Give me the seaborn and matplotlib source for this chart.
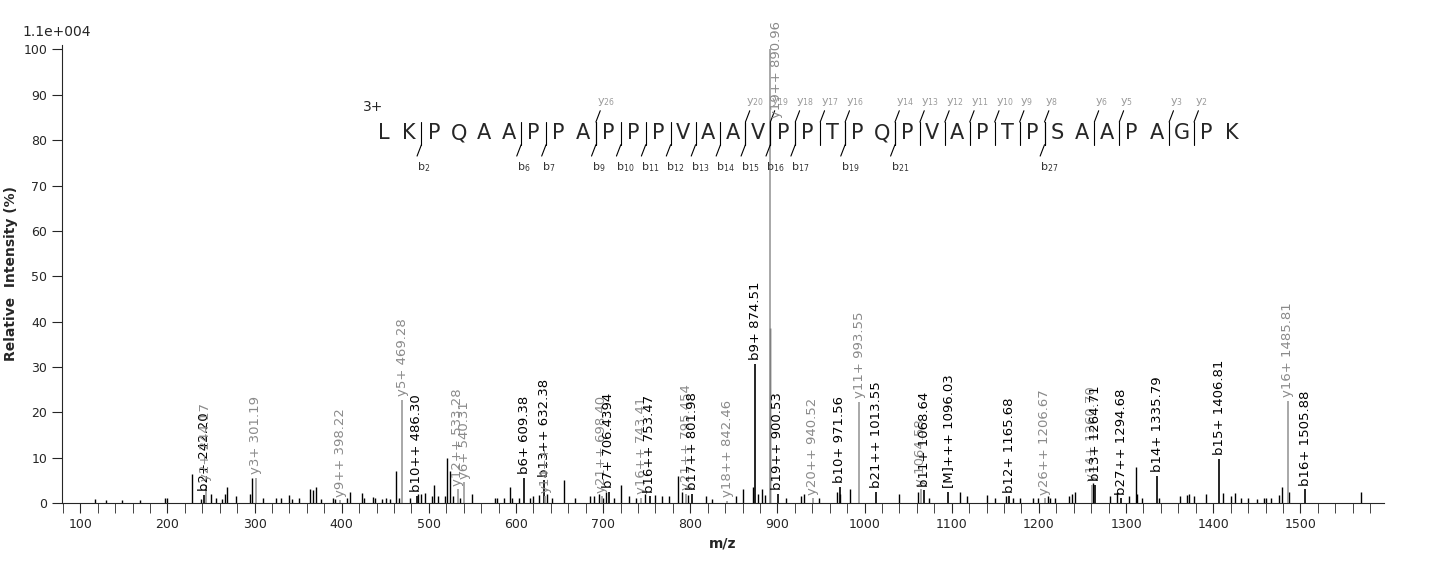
import matplotlib
matplotlib.use("Agg")
import matplotlib.pyplot as plt
from matplotlib.ticker import MultipleLocator
import seaborn as sns

# annotated fragment peaks: m/z, relative intensity, label, ion kind
ann_mz = [242.20, 244.17, 301.19, 398.22, 469.28, 486.30, 533.28, 540.31,
          609.38, 632.38, 633.40, 698.40, 706.4394, 743.41, 753.47, 795.454,
          801.98, 842.46, 874.51, 890.96, 900.53, 940.52, 971.56, 993.55,
          1013.55, 1064.58, 1068.64, 1096.03, 1165.68, 1206.67, 1260.70,
          1264.71, 1294.68, 1335.79, 1406.81, 1485.81, 1505.88]
ann_int = [1.8, 4.0, 5.6, 0.6, 22.8, 1.6, 3.0, 4.6,
           5.5, 5.0, 1.5, 1.5, 2.5, 1.2, 1.5, 2.0,
           2.0, 0.5, 30.7, 100.0, 2.0, 1.0, 3.5, 22.3,
           2.5, 3.0, 2.8, 2.5, 1.5, 1.0, 4.0,
           4.0, 1.0, 6.0, 9.7, 22.5, 3.0]
ann_lab = ["b2+ 242.20", "y2+ 244.17", "y3+ 301.19", "y9++ 398.22", "y5+ 469.28",
           "b10++ 486.30", "y12++ 533.28", "y6+ 540.31", "b6+ 609.38",
           "b13++ 632.38", "y14++", "y21++ 698.40", "b7+ 706.4394", "y16++ 743.41",
           "b16++ 753.47", "y21++ 795.454", "b17++ 801.98", "y18++ 842.46",
           "b9+ 874.51", "y19++ 890.96", "b19++ 900.53", "y20++ 940.52",
           "b10+ 971.56", "y11+ 993.55", "b21++ 1013.55", "y 1064.58",
           "b11+ 1068.64", "[M]+++ 1096.03", "b12+ 1165.68", "y26++ 1206.67",
           "y14+ 1260.70", "b13+ 1264.71", "b27++ 1294.68", "b14+ 1335.79",
           "b15+ 1406.81", "y16+ 1485.81", "b16+ 1505.88"]
ann_kind = ["b", "y", "y", "y", "y", "b", "y", "y", "b", "b", "y", "y", "b", "y",
            "b", "y", "b", "y", "b", "y", "b", "y", "b", "y", "b", "y", "b", "b",
            "b", "y", "y", "b", "b", "b", "b", "y", "b"]

# unlabelled peaks
raw_mz = [117, 130, 148, 168, 197, 199, 228, 238, 250, 256, 262, 266, 268, 279,
          295, 297, 310, 325, 330, 340, 343, 351, 364, 367, 370, 376, 390, 392,
          406, 410, 423, 426, 436, 438, 446, 451, 455, 462, 466, 478, 488, 491,
          495, 503, 506, 510, 518, 521, 524, 528, 536, 549, 576, 578, 586, 593,
          595, 603, 616, 620, 626, 635, 641, 655, 668, 685, 690, 695, 700, 703,
          712, 720, 730, 738, 748, 760, 768, 775, 786, 790, 797, 818, 825, 852,
          860, 872, 878, 882, 886, 891.5, 910, 927, 930, 948, 968, 972, 983, 1040,
          1061, 1074, 1110, 1118, 1140, 1150, 1162, 1170, 1178, 1193, 1199, 1210,
          1213, 1219, 1235, 1238, 1241, 1262, 1282, 1290, 1303, 1311, 1313, 1318,
          1338, 1362, 1370, 1372, 1378, 1392, 1411, 1420, 1425, 1432, 1440, 1450,
          1458, 1461, 1466, 1476, 1479, 1487, 1570]
raw_int = [0.8, 0.6, 0.6, 0.6, 1.2, 1.0, 6.5, 0.8, 2.0, 1.0, 0.8, 2.0, 3.6, 1.5,
           2.0, 5.5, 1.0, 1.2, 1.0, 1.8, 0.8, 1.2, 3.0, 2.8, 3.5, 0.8, 1.0, 0.8,
           1.0, 2.5, 2.2, 1.2, 1.4, 1.2, 0.8, 1.0, 0.8, 7.0, 1.0, 1.0, 2.0, 2.0,
           2.2, 1.5, 4.0, 1.5, 1.5, 10.0, 7.0, 1.5, 1.2, 2.0, 1.2, 1.2, 1.0, 3.5,
           1.0, 1.2, 1.0, 1.5, 1.8, 2.0, 1.0, 5.0, 1.0, 1.5, 1.5, 2.0, 1.2, 2.5,
           1.0, 4.0, 1.5, 1.0, 2.0, 1.8, 1.5, 1.5, 6.0, 2.5, 1.8, 1.5, 0.8, 1.5,
           3.0, 3.5, 2.0, 3.0, 1.8, 38.5, 1.2, 1.5, 2.0, 1.0, 2.5, 2.0, 3.0, 2.0,
           2.5, 1.2, 2.5, 1.5, 1.8, 1.0, 1.5, 1.0, 1.0, 1.2, 1.2, 1.5, 1.0, 1.2,
           1.5, 2.0, 2.5, 4.5, 1.5, 2.5, 1.5, 8.0, 2.0, 1.0, 1.2, 1.5, 1.8, 2.0,
           1.5, 2.0, 2.2, 1.5, 2.2, 1.0, 1.0, 0.8, 1.0, 1.2, 1.0, 1.8, 3.5, 2.5,
           2.5]

sequence = "LKPQAAPPAPPPVAAVPPTPQPVAPTPSAAPAGPK"
b_ions = [2, 6, 7, 9, 10, 11, 12, 13, 14, 15, 16, 17, 19, 21, 27]
y_ions = [26, 20, 19, 18, 17, 16, 14, 13, 12, 11, 10, 9, 8, 6, 5, 3, 2]

sns.set_style("ticks")
fig = plt.figure(figsize=(14.36, 5.62), dpi=100)
ax = fig.add_axes([0.0432, 0.105, 0.9206, 0.815])

ax.vlines(raw_mz, 0, raw_int, color="black", lw=1.0)
grey = "#9a9a9a"
for mz, h, lab, k in zip(ann_mz, ann_int, ann_lab, ann_kind):
    c = "black" if k == "b" else grey
    ax.vlines(mz, 0, h, color=c, lw=1.2)
    if h >= 99:
        # base peak label sits beside the line near the top
        ax.text(mz + 1, 85, lab, rotation=90, ha="left", va="bottom",
                fontsize=9.5, color="#8a8a8a", clip_on=False)
    else:
        ax.text(mz, h + 0.8, lab, rotation=90, ha="center", va="bottom",
                fontsize=9.5, color=c if k == "b" else "#8a8a8a")

ax.set_xlim(79, 1596)
ax.set_ylim(0, 101)
ax.xaxis.set_major_locator(MultipleLocator(100))
ax.xaxis.set_minor_locator(MultipleLocator(20))
ax.yaxis.set_major_locator(MultipleLocator(10))
ax.tick_params(axis="both", which="major", length=7, labelsize=9, direction="out")
ax.tick_params(axis="x", which="minor", length=7)
sns.despine(ax=ax)
ax.set_xlabel("m/z", fontsize=10, fontweight="bold")
ax.set_ylabel("Relative  Intensity (%)", fontsize=10, fontweight="bold")
ax.text(-0.03, 1.02, "1.1e+004", transform=ax.transAxes, fontsize=10)

# sequence ladder
x0, dx, ys = 448.5, 28.6, 81.5
for i, aa in enumerate(sequence):
    ax.text(x0 + i * dx, ys, aa, ha="center", va="center", fontsize=15)
ax.text(x0 - 12, 86.5, "3+", fontsize=10, ha="center")
for n in b_ions:
    xb = x0 + (n - 0.5) * dx
    ax.plot([xb, xb], [ys - 2.5, ys + 2.5], color="black", lw=0.8)
    ax.plot([xb, xb - 5], [ys - 2.5, ys - 5], color="black", lw=0.8)
    ax.text(xb - 5, ys - 6, f"b$_{{{n}}}$", fontsize=8, ha="left", va="top",
            color="#333333")
for n in y_ions:
    xy = x0 + (len(sequence) - n - 0.5) * dx
    ax.plot([xy, xy], [ys - 2.5, ys + 2.5], color="black", lw=0.8)
    ax.plot([xy, xy + 5], [ys + 2.5, ys + 5], color="black", lw=0.8)
    ax.text(xy + 1, ys + 5.5, f"y$_{{{n}}}$", fontsize=8, ha="left",
            va="bottom", color=grey)

fig.savefig("out.png", dpi=100)
